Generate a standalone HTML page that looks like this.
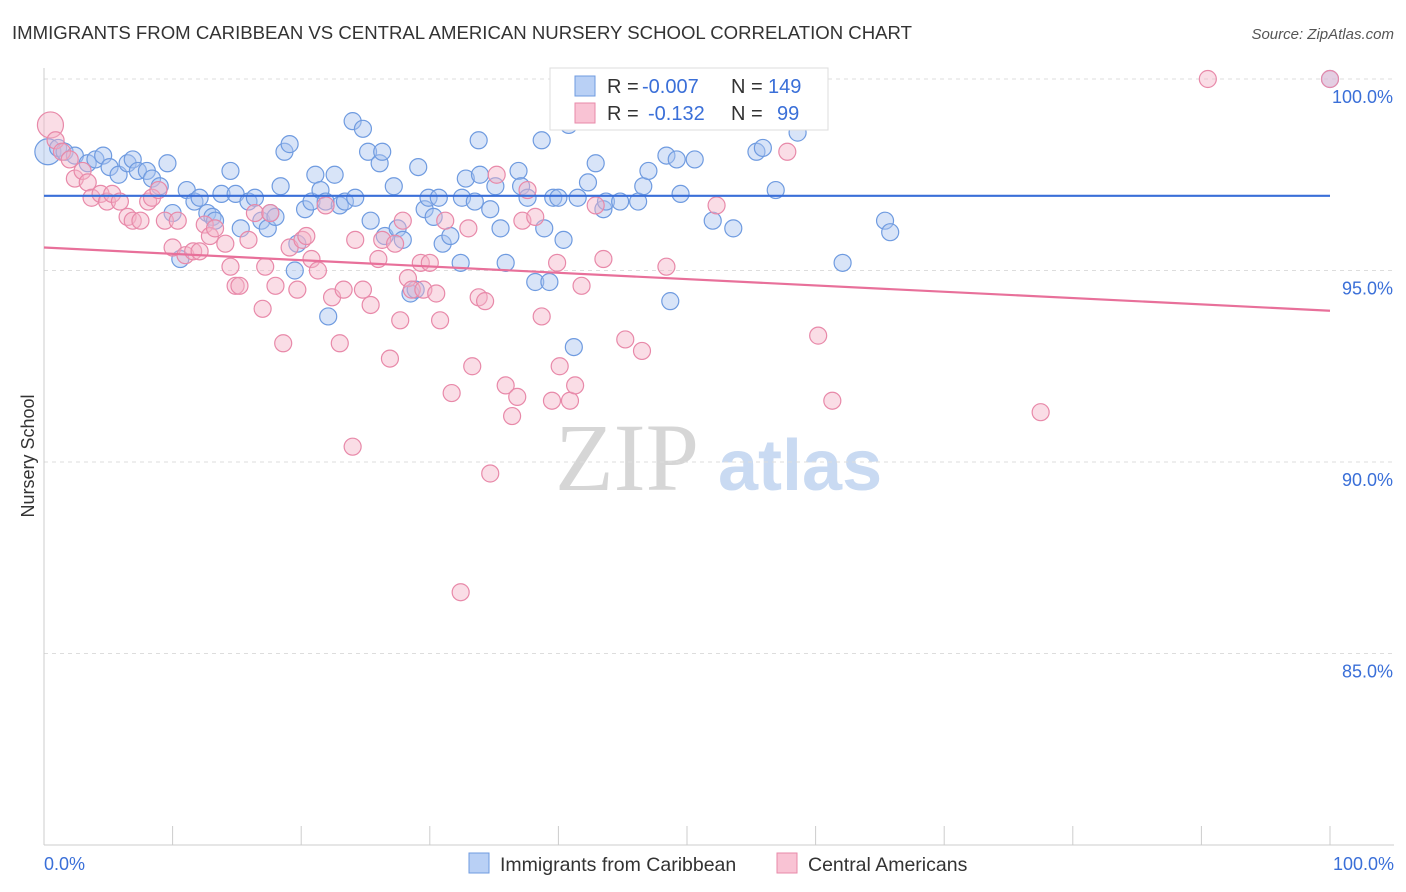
<!DOCTYPE html>
<html><head><meta charset="utf-8">
<style>
html,body{margin:0;padding:0;background:#fff;width:1406px;height:892px;overflow:hidden;font-family:"Liberation Sans",sans-serif;}
svg{display:block}
</style></head>
<body>
<svg id="chart" width="1406" height="892">
<text x="12" y="39" font-size="18.6" fill="#333" textLength="900">IMMIGRANTS FROM CARIBBEAN VS CENTRAL AMERICAN NURSERY SCHOOL CORRELATION CHART</text>
<text x="1394" y="39" font-size="15" fill="#555" font-style="italic" text-anchor="end">Source: ZipAtlas.com</text>
<g>
<text x="555" y="490" font-size="96" fill="#d6d6d6" font-family="Liberation Serif,serif">ZIP</text>
<text x="718" y="490" font-size="72" fill="#c9daf2" font-weight="bold">atlas</text>
</g>
<g id="grid"></g>
<g id="axes"></g>
<text transform="translate(34,456) rotate(-90)" font-size="18" fill="#333" text-anchor="middle">Nursery School</text>
<g id="pts"></g>
<g id="trends"></g>
<g>
<rect x="550" y="68" width="278" height="62" fill="#fff" stroke="#ddd"/>
<rect x="575" y="76" width="20" height="20" fill="#b9d0f5" stroke="#6f9be0"/>
<rect x="575" y="103" width="20" height="20" fill="#f9c3d4" stroke="#e889a9"/>
<g font-size="20" fill="#333">
<text x="607" y="93">R =</text><text x="642" y="93" fill="#3a6fd8">-0.007</text><text x="731" y="93">N =</text><text x="768" y="93" fill="#3a6fd8">149</text>
</g>
<g font-size="20" fill="#333">
<text x="607" y="120">R =</text><text x="648" y="120" fill="#3a6fd8">-0.132</text><text x="731" y="120">N =</text><text x="777" y="120" fill="#3a6fd8">99</text>
</g>
</g>
<g>
<rect x="469" y="853" width="20" height="20" fill="#b9d0f5" stroke="#6f9be0"/>
<text x="500" y="871" font-size="19.5" fill="#333">Immigrants from Caribbean</text>
<rect x="777" y="853" width="20" height="20" fill="#f9c3d4" stroke="#e889a9"/>
<text x="808" y="871" font-size="19.5" fill="#333">Central Americans</text>
</g>
</svg>
<script>
const blueX=[0.3,1.1,1.6,2.4,3.4,4.0,4.6,5.1,5.8,6.5,6.9,7.3,8.0,8.4,9.0,9.6,10.0,10.6,11.1,11.7,12.1,12.7,13.1,13.3,13.8,14.5,14.9,15.3,15.9,16.4,16.9,17.4,17.6,18.0,18.4,18.7,19.1,19.5,19.7,20.3,20.8,21.1,21.5,21.9,22.1,22.6,23.0,23.4,24.0,24.2,24.8,25.2,25.4,26.1,26.3,26.5,27.2,27.5,27.9,28.5,28.9,29.1,29.6,29.9,30.3,30.7,31.0,31.6,32.4,32.5,32.8,33.5,33.8,33.9,34.7,35.1,35.5,35.9,36.9,37.1,37.6,38.2,38.7,38.9,39.3,39.6,40.0,40.4,40.8,41.2,41.5,42.3,42.9,43.5,43.7,44.8,46.2,46.6,47.0,48.4,48.7,49.2,49.5,50.6,52.0,53.6,54.5,55.4,55.9,56.9,58.6,62.1,65.4,65.8,100];
const blueY=[98.1,98.2,98.1,98.0,97.8,97.9,98.0,97.7,97.5,97.8,97.9,97.6,97.6,97.4,97.2,97.8,96.5,95.3,97.1,96.8,96.9,96.5,96.4,96.3,97.0,97.6,97.0,96.1,96.8,96.9,96.3,96.1,96.5,96.4,97.2,98.1,98.3,95.0,95.7,96.6,96.8,97.5,97.1,96.8,93.8,97.5,96.7,96.8,98.9,96.9,98.7,98.1,96.3,97.8,98.1,95.9,97.2,96.1,95.8,94.4,94.5,97.7,96.6,96.9,96.4,96.9,95.7,95.9,95.2,96.9,97.4,96.8,98.4,97.5,96.6,97.2,96.1,95.2,97.6,97.2,96.9,94.7,98.4,96.1,94.7,96.9,96.9,95.8,98.8,93.0,96.9,97.3,97.8,96.6,96.8,96.8,96.8,97.2,97.6,98.0,94.2,97.9,97.0,97.9,96.3,96.1,100.0,98.1,98.2,97.1,98.6,95.2,96.3,96.0,100];
const pinkX=[0.5,0.9,1.4,2.0,2.4,3.0,3.4,3.7,4.4,4.9,5.3,5.9,6.5,6.9,7.5,8.1,8.4,8.9,9.4,10.0,10.4,11.0,11.6,12.1,12.5,12.9,13.3,14.1,14.5,14.9,15.2,15.9,16.4,17.0,17.2,17.6,18.0,18.6,19.1,19.7,20.1,20.4,20.8,21.3,21.9,22.4,23.0,23.3,24.0,24.2,24.8,25.4,26.0,26.3,26.9,27.3,27.7,27.9,28.3,28.6,29.3,29.5,30.0,30.5,30.8,31.2,31.7,32.4,33.0,33.3,33.8,34.3,34.7,35.2,35.9,36.4,36.8,37.2,37.6,38.2,38.7,39.5,39.9,40.1,40.9,41.3,41.8,42.9,43.5,45.2,46.5,48.4,52.3,57.8,60.2,61.3,77.5,90.5,60.2,100];
const pinkY=[98.8,98.4,98.1,97.9,97.4,97.6,97.3,96.9,97.0,96.8,97.0,96.8,96.4,96.3,96.3,96.8,96.9,97.1,96.3,95.6,96.3,95.4,95.5,95.5,96.2,95.9,96.1,95.7,95.1,94.6,94.6,95.8,96.5,94.0,95.1,96.5,94.6,93.1,95.6,94.5,95.8,95.9,95.3,95.0,96.7,94.3,93.1,94.5,90.4,95.8,94.5,94.1,95.3,95.8,92.7,95.7,93.7,96.3,94.8,94.5,95.2,94.5,95.2,94.4,93.7,96.3,91.8,86.6,96.1,92.5,94.3,94.2,89.7,97.5,92.0,91.2,91.7,96.3,97.1,96.4,93.8,91.6,95.2,92.5,91.6,92.0,94.6,96.7,95.3,93.2,92.9,95.1,96.7,98.1,93.3,91.6,91.3,100,100,100];
const trendBlue=[96.95,96.95];
const trendPink=[95.6,93.95];
const yTicks=[100,95,90,85];
const yTickLabels=["100.0%","95.0%","90.0%","85.0%"];
const xTickCount=10;

const X0=44,X1=1330,YTOP=79,PER=38.3;
const sx=v=>X0+(X1-X0)*v/100;
const sy=v=>YTOP+(100-v)*PER;
const NS='http://www.w3.org/2000/svg';
function mk(tag,attrs,parent){const e=document.createElementNS(NS,tag);for(const k in attrs)e.setAttribute(k,attrs[k]);parent.appendChild(e);return e;}
const grid=document.getElementById('grid'),axes=document.getElementById('axes');
yTicks.forEach((t,i)=>{
 const l=mk('line',{x1:X0,x2:1394,y1:sy(t),y2:sy(t),stroke:'#ddd','stroke-dasharray':'4,4'},grid);
 
 
 const tx=mk('text',{x:1393,y:sy(t)+24,'font-size':18,fill:'#3a6fd8','text-anchor':'end'},axes);
 tx.textContent=yTickLabels[i];
 
 
});
const ya=mk('line',{x1:X0,x2:X0,y1:68,y2:845,stroke:'#ccc'},axes);


const xa=mk('line',{x1:X0,x2:1394,y1:845,y2:845,stroke:'#ccc'},axes);


for(let i=0;i<=xTickCount;i++){
 const x=sx(i*100/xTickCount);
 const t=mk('line',{x1:x,x2:x,y1:826,y2:845,stroke:'#ccc'},axes);
 
 
}
const xl=mk('text',{x:44,y:870,'font-size':18,fill:'#3a6fd8'},axes);xl.textContent='0.0%';


const xr=mk('text',{x:1394,y:870,'font-size':18,fill:'#3a6fd8','text-anchor':'end'},axes);xr.textContent='100.0%';



const pts=document.getElementById('pts');
function drawSeries(xs,ys,fill,stroke,name){
 xs.forEach((v,i)=>{
  const r=i===0?13:8.5;
  const c=mk('circle',{cx:sx(v),cy:sy(ys[i]),r:r,fill:fill,'fill-opacity':0.45,stroke:stroke,'stroke-width':1.2},pts);
  
  
 });
}
drawSeries(blueX,blueY,'#a9c4f0','#6f9be0','point-caribbean');
drawSeries(pinkX,pinkY,'#f5b4c8','#e889a9','point-central-american');
const tr=document.getElementById('trends');
const tb=mk('line',{x1:sx(0),x2:sx(100),y1:sy(trendBlue[0]),y2:sy(trendBlue[1]),stroke:'#3a6fd8','stroke-width':2.2},tr);


const tp=mk('line',{x1:sx(0),x2:sx(100),y1:sy(trendPink[0]),y2:sy(trendPink[1]),stroke:'#e8709a','stroke-width':2.2},tr);


</script>
</body></html>
